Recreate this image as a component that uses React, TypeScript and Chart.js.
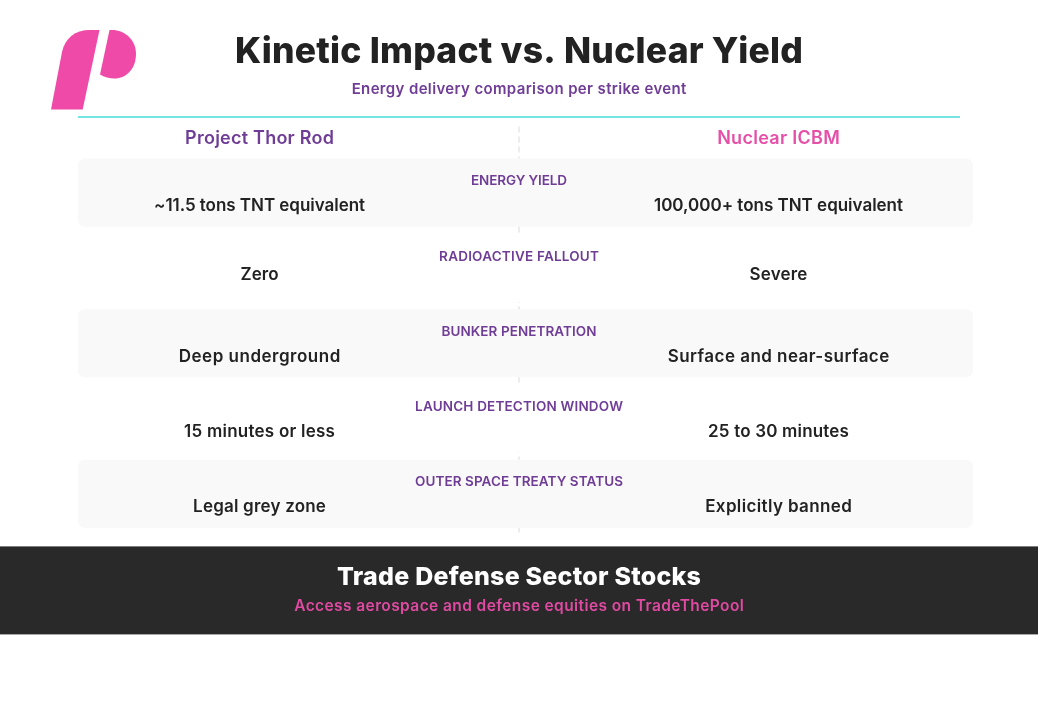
import React, { useEffect, useRef } from "react";
import { Chart, registerables } from "chart.js";

Chart.register(...registerables);

const rowLabels = [
  "ENERGY YIELD",
  "RADIOACTIVE FALLOUT",
  "BUNKER PENETRATION",
  "LAUNCH DETECTION WINDOW",
  "OUTER SPACE TREATY STATUS",
];
const thorValues = ["~11.5 tons TNT equivalent", "Zero", "Deep underground", "15 minutes or less", "Legal grey zone"];
const icbmValues = ["100,000+ tons TNT equivalent", "Severe", "Surface and near-surface", "25 to 30 minutes", "Explicitly banned"];

const FONT = "Inter, sans-serif";
const PURPLE = "#6f3c96";
const PINK = "#e64fa8";
const INK = "#222222";

// pixel offsets of the two text lines from each row's centre
const labelOffset = -11.5;
const valueOffsets = [13, 7, 13.7, 13, 13];

// rendered widths in the reference; the substitute font is spaced out to fill them
const labelWidths = [96, 160, 155, 208, 208];
const thorWidths = [211, 38, 162, 151, 133];
const icbmWidths = [249, 58, 222, 141, 147];

const text = (ctx: CanvasRenderingContext2D, s: string, x: number, y: number, font: string, color: string, width: number) => {
  ctx.font = `${font} ${FONT}`;
  ctx.fillStyle = color;
  ctx.textAlign = "center";
  ctx.textBaseline = "middle";
  const spacing = (width - ctx.measureText(s).width) / s.length;
  (ctx as any).letterSpacing = `${spacing}px`;
  ctx.fillText(s, x + spacing / 2, y);
  (ctx as any).letterSpacing = "0px";
};

const drawLogo = (ctx: CanvasRenderingContext2D) => {
  ctx.fillStyle = "#f04aa8";
  ctx.beginPath();
  ctx.moveTo(51, 109.5);
  ctx.lineTo(82.7, 109.5);
  ctx.lineTo(99.5, 30);
  ctx.lineTo(90, 30);
  ctx.bezierCurveTo(75, 30, 65, 38, 62, 52);
  ctx.closePath();
  ctx.fill();
  ctx.beginPath();
  ctx.moveTo(109.5, 30);
  ctx.lineTo(100, 74.5);
  ctx.bezierCurveTo(104, 77, 110, 78.5, 114, 78.5);
  ctx.bezierCurveTo(127, 78.5, 136, 68, 136, 54);
  ctx.bezierCurveTo(136, 40, 125, 30, 112, 30);
  ctx.closePath();
  ctx.fill();
};

const comparisonPlugin = {
  id: "comparison",
  beforeDatasetsDraw(chart: any) {
    const { ctx, scales } = chart;
    const cx = scales.x.getPixelForValue(0);
    ctx.save();
    ctx.strokeStyle = "#ececec";
    ctx.lineWidth = 2;
    ctx.setLineDash([6, 4]);
    ctx.beginPath();
    ctx.moveTo(cx, 126.5);
    ctx.lineTo(cx, 533);
    ctx.stroke();
    ctx.restore();
  },
  afterDatasetsDraw(chart: any) {
    const { ctx, scales } = chart;
    const { x, y } = scales;
    const left = x.getPixelForValue(-0.5);
    const mid = x.getPixelForValue(0);
    const right = x.getPixelForValue(0.5);
    ctx.save();

    drawLogo(ctx);
    text(ctx, "Kinetic Impact vs. Nuclear Yield", mid, 52, "800 35.5px", INK, 568);
    text(ctx, "Energy delivery comparison per strike event", mid, 89.5, "600 15px", PURPLE, 335);

    ctx.fillStyle = "#76e4e0";
    ctx.fillRect(78, 116, 882, 2);

    text(ctx, "Project Thor Rod", left, 139, "600 18px", PURPLE, 149);
    text(ctx, "Nuclear ICBM", right, 139, "600 18px", PINK, 123);

    rowLabels.forEach((label, i) => {
      const cy = y.getPixelForValue(i);
      text(ctx, label, mid, cy + labelOffset, "600 13.5px", PURPLE, labelWidths[i]);
      text(ctx, thorValues[i], left, cy + valueOffsets[i], "600 17px", INK, thorWidths[i]);
      text(ctx, icbmValues[i], right, cy + valueOffsets[i], "600 17px", INK, icbmWidths[i]);
    });

    ctx.fillStyle = "#292929";
    ctx.fillRect(0, 546.4, 1038, 88);
    text(ctx, "Trade Defense Sector Stocks", mid, 577, "800 25px", "#ffffff", 364);
    text(ctx, "Access aerospace and defense equities on TradeThePool", mid, 606, "600 15.5px", "#e04aa2", 450);
    ctx.restore();
  },
};

export default function App() {
  const canvasRef = useRef<HTMLCanvasElement | null>(null);

  useEffect(() => {
    const ctx = canvasRef.current?.getContext("2d");
    if (!ctx) return;

    const chart = new Chart(ctx, {
      type: "bar",
      data: {
        labels: rowLabels,
        datasets: [
          {
            data: rowLabels.map(() => [-0.85, 0.875]) as any,
            backgroundColor: rowLabels.map((_, i) => (i % 2 === 0 ? "#f9f9f9" : "#ffffff")),
            borderRadius: 7,
            borderSkipped: false,
            barPercentage: 0.904,
            categoryPercentage: 1,
          },
        ],
      },
      options: {
        indexAxis: "y",
        responsive: false,
        animation: false,
        layout: { padding: { top: 155, bottom: 169.5, left: 0, right: 0 } },
        plugins: { legend: { display: false }, tooltip: { enabled: false } },
        scales: {
          x: { type: "linear", min: -1, max: 1, display: false },
          y: { type: "category", display: false },
        },
      },
      plugins: [comparisonPlugin],
    });

    return () => chart.destroy();
  }, []);

  return (
    <div style={{ position: "absolute", left: 0, top: 0, width: 1038, height: 701, background: "#ffffff" }}>
      <canvas ref={canvasRef} width={1038} height={701} style={{ display: "block" }} />
    </div>
  );
}
